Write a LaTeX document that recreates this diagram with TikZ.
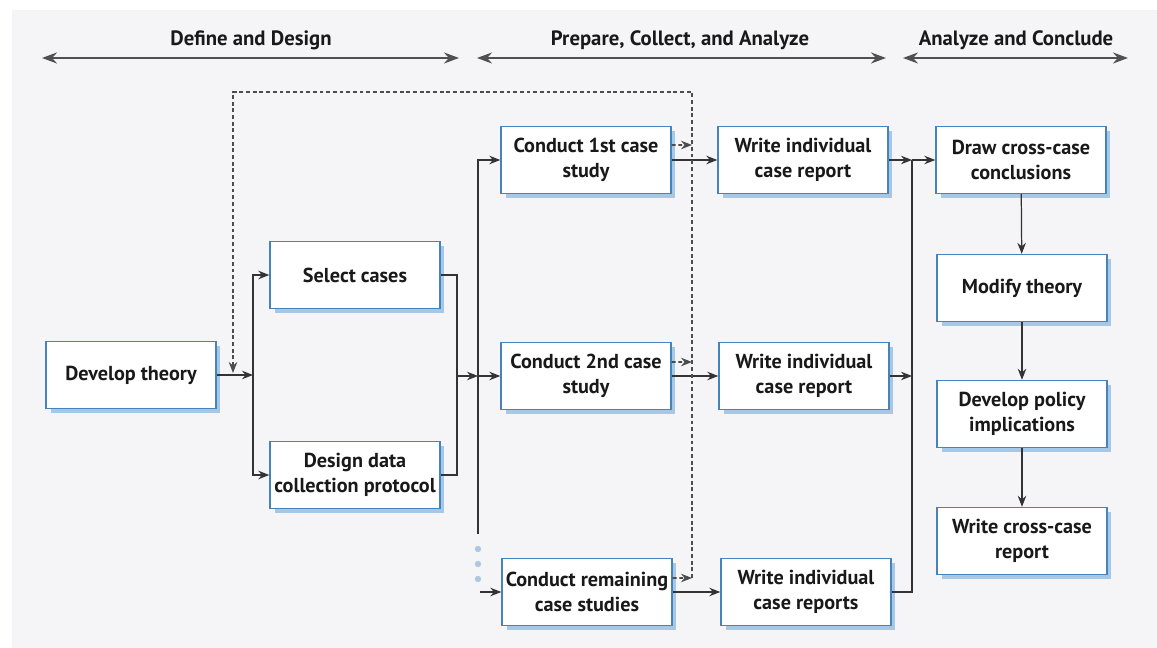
\documentclass[tikz,border=0pt]{standalone}
\usepackage{fontspec}
\setmainfont{PT Sans}
\usetikzlibrary{arrows.meta, shadows, positioning}
\definecolor{boxline}{RGB}{70, 130, 190}
\definecolor{boxshade}{RGB}{165, 200, 230}
\definecolor{headgray}{RGB}{80, 80, 80}
\definecolor{dotblue}{RGB}{175, 200, 225}
\definecolor{paper}{RGB}{245, 245, 247}

\begin{document}
\begin{tikzpicture}[x=0.02cm, y=-0.02cm,
    box/.style={rectangle, draw=boxline, fill=white, line width=0.8pt,
                minimum width=3.4cm, minimum height=1.34cm, align=center,
                inner xsep=1pt,
                font=\bfseries\fontsize{11.5}{14}\selectfont, text=black!90,
                drop shadow={shadow xshift=0.09cm, shadow yshift=-0.09cm,
                             fill=boxshade, opacity=1}},
    head/.style={font=\bfseries\fontsize{11.8}{14}\selectfont, text=black!90},
    harr/.style={{Stealth[length=3mm, width=2.2mm]}-{Stealth[length=3mm, width=2.2mm]},
                 line width=1.2pt, headgray},
    arr/.style={-{Stealth[length=2.2mm, width=1.7mm]}, line width=0.7pt, black!80},
    line/.style={line width=0.7pt, black!80},
    fb/.style={line width=0.9pt, black!70, dash pattern=on 2.2pt off 1.6pt},
    fbarr/.style={fb, -{Stealth[length=2.2mm, width=1.7mm, fill=black!50]}}]

    \useasboundingbox (0, 0) rectangle (1157, 648);
    \fill[paper] (12, 10) rectangle (1157, 648);

    % Phases
    \node[head] (phase1) at (251, 40) {Define and Design};
    \node[head] (phase2) at (680, 40) {Prepare, Collect, and Analyze};
    \node[head] (phase3) at (1016, 40) {Analyze and Conclude};
    \coordinate (p1a) at (42, 58);
    \coordinate (p1b) at (459, 58);
    \coordinate (p2a) at (477, 58);
    \coordinate (p2b) at (886, 58);
    \coordinate (p3a) at (903, 58);
    \coordinate (p3b) at (1128, 58);
    \draw[harr] (p1a) -- (p1b);
    \draw[harr] (p2a) -- (p2b);
    \draw[harr] (p3a) -- (p3b);

    % Boxes
    \node[box] (theory) at (131, 375) {Develop theory};
    \node[box] (select) at (355, 275) {Select cases};
    \node[box] (design) at (355, 475) {Design data\\collection protocol};

    \node[box] (conduct1) at (586, 160) {Conduct 1st case\\study};
    \node[box] (conduct2) at (586, 376) {Conduct 2nd case\\study};
    \node[box] (conductN) at (587, 592) {Conduct remaining\\case studies};

    \node[box] (report1) at (803, 160) {Write individual\\case report};
    \node[box] (report2) at (804, 376) {Write individual\\case report};
    \node[box] (reportN) at (806, 592) {Write individual\\case reports};

    \node[box] (conclude) at (1021, 160) {Draw cross-case\\conclusions};
    \node[box] (modify) at (1022, 288) {Modify theory};
    \node[box] (policy) at (1022, 414) {Develop policy\\implications};
    \node[box] (crossrep) at (1022, 541) {Write cross-case\\report};

    % Junctions
    \coordinate (split1) at (253, 375);
    \coordinate (join1) at (457, 376);
    \coordinate (split2) at (478, 376);
    \coordinate (dotstop) at (478, 534);
    \coordinate (dotend) at (480, 592);
    \coordinate (join2) at (912, 160);
    \coordinate (mid2) at (912, 376);

    % Arrows
    \draw[arr] (theory) -- (split1);
    \draw[arr] (split1) |- (select);
    \draw[arr] (split1) |- (design);
    \draw[line] (select) -| (join1);
    \draw[line] (design) -| (join1);
    \draw[arr] (join1) -- (split2);
    \draw[arr] (split2) |- (conduct1);
    \draw[arr] (split2) -- (conduct2);
    \draw[line] (split2) -- (dotstop);
    \foreach \y in {549, 564, 579}
        \fill[dotblue] (478, \y) circle (3.2);
    \draw[arr] (dotend) -- (conductN);

    \draw[arr] (conduct1) -- (report1);
    \draw[arr] (conduct2) -- (report2);
    \draw[arr] (conductN) -- (reportN);

    \draw[arr] (report1) -- (join2);
    \draw[arr] (report2) -- (mid2);
    \draw[line] (reportN) -| (join2);
    \draw[arr] (join2) -- (conclude);

    \draw[arr] (conclude) -- (modify);
    \draw[arr] (modify) -- (policy);
    \draw[arr] (policy) -- (crossrep);

    % Feedback to theory
    \coordinate (fb1) at (692, 145);
    \coordinate (fb2) at (692, 362);
    \coordinate (fbN) at (692, 578);
    \coordinate (fbtr) at (692, 92);
    \coordinate (fbtl) at (233, 92);
    \coordinate (fbin) at (233, 373);
    \draw[fbarr] ([yshift=0.3cm]conduct1.east) -- (fb1);
    \draw[fbarr] ([yshift=0.28cm]conduct2.east) -- (fb2);
    \draw[fbarr] ([yshift=0.28cm]conductN.east) -- (fbN);
    \draw[fbarr] (fbN) -- (fbtr) -- (fbtl) -- (fbin);
\end{tikzpicture}
\end{document}
